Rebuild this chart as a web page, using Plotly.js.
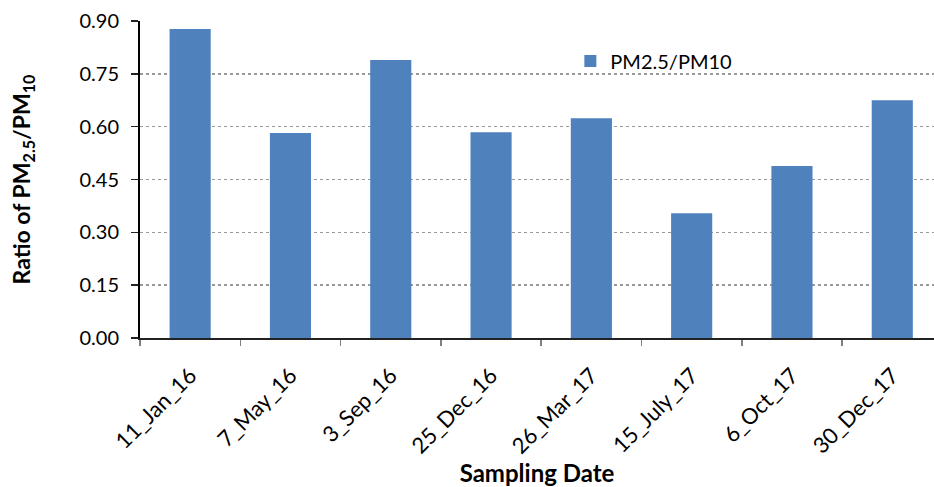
<!DOCTYPE html>
<html>
<head>
<meta charset="utf-8">
<script src="https://cdn.plot.ly/plotly-3.0.1.min.js"></script>
<style>html,body{margin:0;padding:0;background:#fff;}#chart{width:934px;height:487px;}</style>
</head>
<body>
<div id="chart"></div>
<script>
const categories = ["11_Jan_16","7_May_16","3_Sep_16","25_Dec_16","26_Mar_17","15_July_17","6_Oct_17","30_Dec_17"];
const ratioValues = [0.877, 0.582, 0.789, 0.584, 0.624, 0.354, 0.488, 0.675];
const seriesName = "PM2.5/PM10";
const yTickVals = [0, 0.15, 0.30, 0.45, 0.60, 0.75, 0.90];
const yTickText = ["0.00","0.15","0.30","0.45","0.60","0.75","0.90"];

const font = "Lato, 'Open Sans', sans-serif";

const trace = {
  type: "bar",
  x: categories,
  y: ratioValues,
  name: seriesName,
  marker: {color: "#4F81BD"},
  showlegend: true
};

const layout = {
  width: 934, height: 487,
  margin: {l: 140, r: 0, t: 21, b: 149},
  paper_bgcolor: "#fff", plot_bgcolor: "#fff",
  bargap: 0.59,
  font: {family: font, color: "#000", size: 19},
  showlegend: true,
  legend: {x: 0.542, y: 0.935, xanchor: "left", yanchor: "top", bgcolor: "rgba(0,0,0,0)", font: {size: 20, family: font}},
  xaxis: {
    type: "category",
    range: [-0.5, 7.416],
    tickangle: -45,
    tickson: "boundaries",
    ticks: "outside", ticklen: 6, tickcolor: "#808080", tickwidth: 1.5,
    showline: true, linecolor: "#222", linewidth: 2,
    showgrid: false,
    tickfont: {size: 22, family: font},
    ticklabelstandoff: 14,
    title: {text: "<b>Sampling Date</b>", font: {size: 24, family: font}, standoff: 14}
  },
  yaxis: {
    range: [0, 0.9],
    tickvals: yTickVals, ticktext: yTickText,
    ticks: "outside", ticklen: 7, tickcolor: "#222", tickwidth: 1.5,
    showline: true, linecolor: "#000", linewidth: 2,
    showgrid: true, gridcolor: "#999", griddash: "dot", gridwidth: 1.5,
    zeroline: false,
    tickfont: {size: 20, family: font},
    ticklabelstandoff: 8,
    title: {text: "<b>Ratio of PM<sub>2.5</sub>/PM<sub>10</sub></b>", font: {size: 23, family: font}, standoff: 42}
  }
};

Plotly.newPlot("chart", [trace], layout, {staticPlot: true, displayModeBar: false});
</script>
</body>
</html>
